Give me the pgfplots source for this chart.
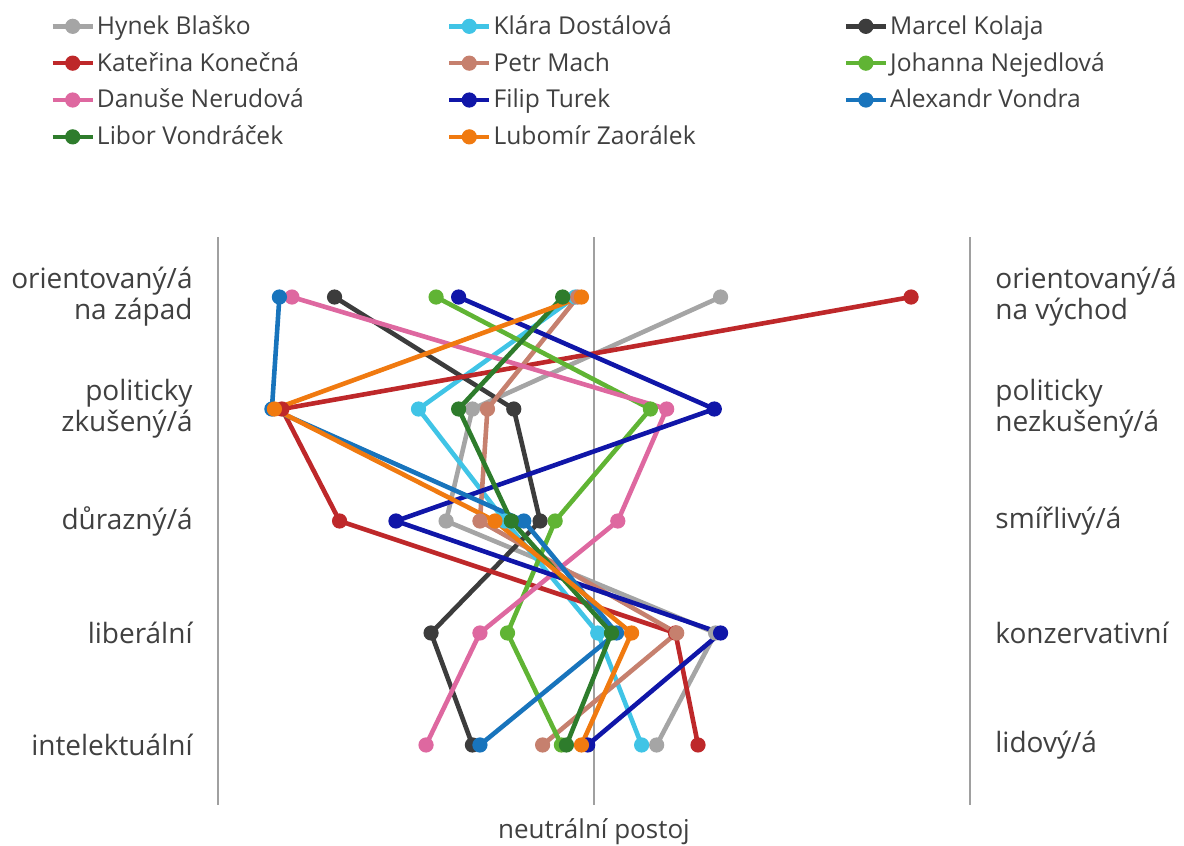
\documentclass[border=0pt]{standalone}
\usepackage{fontspec}
\setmainfont{Open Sans}
\usepackage{pgfplots}
\pgfplotsset{compat=1.18}
\definecolor{cBlasko}{RGB}{165,165,165}
\definecolor{cDostalova}{RGB}{64,196,230}
\definecolor{cKolaja}{RGB}{60,60,60}
\definecolor{cKonecna}{RGB}{190,40,42}
\definecolor{cMach}{RGB}{198,128,110}
\definecolor{cNejedlova}{RGB}{96,180,52}
\definecolor{cNerudova}{RGB}{222,104,160}
\definecolor{cTurek}{RGB}{16,22,168}
\definecolor{cVondra}{RGB}{24,116,188}
\definecolor{cVondracek}{RGB}{46,124,44}
\definecolor{cZaoralek}{RGB}{240,122,16}
\definecolor{gridgray}{RGB}{160,160,160}
\definecolor{txt}{RGB}{64,64,64}
\begin{document}
\begin{tikzpicture}
\path[use as bounding box] (-109pt,-20.5pt) rectangle (483pt,402.5pt);
\begin{axis}[
  scale only axis, width=376pt, height=284pt,
  xmin=1, xmax=7, ymin=0.464, ymax=5.536, y dir=reverse,
  axis line style={draw=none},
  xtick={1,4,7}, xticklabels={}, ytick=\empty,
  major tick length=0pt,
  xmajorgrids, grid style={gridgray, line width=0.6pt},
  clip=false,
  legend columns=3, legend cell align=left,
  legend style={draw=none, fill=none, at={(0,1)}, anchor=north west,
    xshift=-84pt, yshift=111pt, font=\fontsize{12.3}{14}\selectfont\color{txt},
    row sep=7.5pt, column sep=0pt, inner sep=0pt, nodes={inner sep=0pt}},
  legend image code/.code={
    \draw[mark repeat=2,mark phase=2,#1] plot coordinates {(0pt,0pt) (10pt,0pt) (20pt,0pt)};
  },
  every axis plot/.append style={line width=2.3pt, mark=*, mark size=3.5pt, mark options={solid, line width=0.6pt}},
]
\addplot[cBlasko] coordinates {(5.01,1) (3.03,2) (2.82,3) (4.97,4) (4.50,5)};
\addlegendentry{\makebox[176pt][l]{\hspace{1pt}Hynek Blaško}}
\addplot[cDostalova] coordinates {(3.85,1) (2.60,2) (3.29,3) (4.03,4) (4.38,5)};
\addlegendentry{\makebox[176pt][l]{\hspace{1pt}Klára Dostálová}}
\addplot[cKolaja] coordinates {(1.93,1) (3.36,2) (3.57,3) (2.70,4) (3.03,5)};
\addlegendentry{\makebox[176pt][l]{\hspace{1pt}Marcel Kolaja}}
\addplot[cKonecna] coordinates {(6.53,1) (1.51,2) (1.97,3) (4.65,4) (4.83,5)};
\addlegendentry{\makebox[176pt][l]{\hspace{1pt}Kateřina Konečná}}
\addplot[cMach] coordinates {(3.87,1) (3.15,2) (3.09,3) (4.66,4) (3.59,5)};
\addlegendentry{\makebox[176pt][l]{\hspace{1pt}Petr Mach}}
\addplot[cNejedlova] coordinates {(2.74,1) (4.45,2) (3.69,3) (3.31,4) (3.74,5)};
\addlegendentry{\makebox[176pt][l]{\hspace{1pt}Johanna Nejedlová}}
\addplot[cNerudova] coordinates {(1.59,1) (4.58,2) (4.19,3) (3.09,4) (2.66,5)};
\addlegendentry{\makebox[176pt][l]{\hspace{1pt}Danuše Nerudová}}
\addplot[cTurek] coordinates {(2.92,1) (4.96,2) (2.42,3) (5.01,4) (3.95,5)};
\addlegendentry{\makebox[176pt][l]{\hspace{1pt}Filip Turek}}
\addplot[cVondra] coordinates {(1.49,1) (1.43,2) (3.44,3) (4.18,4) (3.09,5)};
\addlegendentry{\makebox[176pt][l]{\hspace{1pt}Alexandr Vondra}}
\addplot[cVondracek] coordinates {(3.75,1) (2.92,2) (3.34,3) (4.14,4) (3.78,5)};
\addlegendentry{\makebox[176pt][l]{\hspace{1pt}Libor Vondráček}}
\addplot[cZaoralek] coordinates {(3.90,1) (1.45,2) (3.21,3) (4.30,4) (3.90,5)};
\addlegendentry{\makebox[176pt][l]{\hspace{1pt}Lubomír Zaorálek}}

\begin{scope}[every node/.style={inner sep=0pt, text=txt, font=\fontsize{14}{15.5}\selectfont}]
\node[anchor=east, align=right, xshift=-12.5pt] at (axis cs:1,1) {orientovaný/á\\na západ};
\node[anchor=east, align=right, xshift=-12.5pt] at (axis cs:1,2) {politicky\\zkušený/á};
\node[anchor=east, align=right, xshift=-12.5pt] at (axis cs:1,3) {důrazný/á};
\node[anchor=east, align=right, xshift=-12.5pt] at (axis cs:1,4) {liberální};
\node[anchor=east, align=right, xshift=-12.5pt] at (axis cs:1,5) {intelektuální};
\node[anchor=west, align=left, xshift=12.5pt] at (axis cs:7,1) {orientovaný/á\\na východ};
\node[anchor=west, align=left, xshift=12.5pt] at (axis cs:7,2) {politicky\\nezkušený/á};
\node[anchor=west, align=left, xshift=12.5pt] at (axis cs:7,3) {smířlivý/á};
\node[anchor=west, align=left, xshift=12.5pt] at (axis cs:7,4) {konzervativní};
\node[anchor=west, align=left, xshift=12.5pt] at (axis cs:7,5) {lidový/á};
\node[anchor=base, yshift=-16.5pt, font=\fontsize{13}{15}\selectfont] at (axis description cs:0.5,0) {neutrální postoj};
\end{scope}
\end{axis}
\end{tikzpicture}
\end{document}
